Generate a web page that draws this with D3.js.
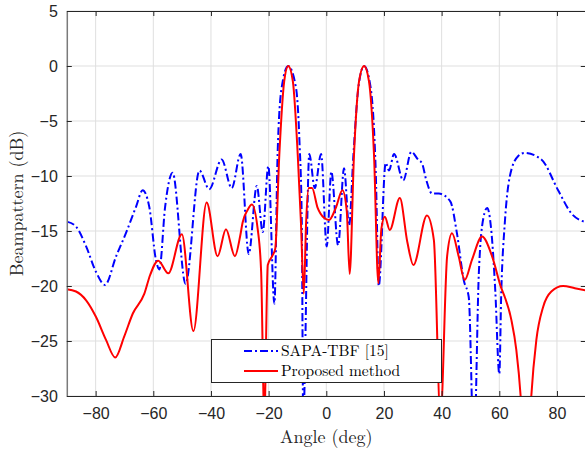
<!DOCTYPE html>
<html><head><meta charset="utf-8">
<script src="https://cdn.jsdelivr.net/npm/d3@7"></script>
<style>body{margin:0;background:#fff}svg{display:block}</style>
</head><body>
<svg id="c" width="585" height="454"></svg>
<script>
const xTicks = [-80, -60, -40, -20, 0, 20, 40, 60, 80];
const yTicks = [5, 0, -5, -10, -15, -20, -25, -30];
const seriesNames = ["SAPA-TBF [15]", "Proposed method"];

const blueAngles = [-90, -86.8, -83.3, -79.9, -76.75, -72.9, -69.5, -66.0, -63.7, -61.4, -59.1, -57.9, -55.9, -53.3, -48.8, -44.0, -40.6, -36.3, -32.8, -29.7, -26.9, -24.1, -22.05, -20.1, -18.0, -16.9, -15.5, -13.2, -10.5, -9.35, -8.5, -8.0, -5.9, -4.0, -1.8, 0.15, 1.75, 4.1, 6.15, 7.9, 9.4, 11.2, 13.1, 15.4, 17.15, 18.2, 20.6, 21.75, 23.5, 26.7, 29.5, 31.8, 33.2, 34.6, 36.7, 39.0, 43.0, 45.3, 47.7, 49.4, 51.2, 52.9, 54.0, 55.8, 57.5, 58.6, 60.0, 60.7, 61.9, 63.6, 66.5, 68.8, 74.6, 80.4, 85.0, 90];
const blueDb = [-14.15, -14.6, -16.4, -18.7, -19.9, -17.3, -15.2, -12.8, -11.3, -12.8, -17.6, -18.5, -12.8, -9.7, -19.8, -9.5, -11.2, -8.5, -11.1, -8.0, -17.1, -10.9, -15.1, -9.1, -21.6, -8.1, -2.0, 0, -2.0, -6.6, -14.2, -32, -8.0, -11.1, -8.0, -16.4, -9.6, -16.3, -9.3, -14.5, -8.1, -1.8, 0, -2.0, -9.6, -20.0, -8.8, -9.5, -8.0, -10.4, -7.8, -8.5, -8.85, -10.3, -11.6, -11.6, -12.3, -15.2, -19.5, -21.0, -35, -18.85, -14.6, -12.9, -15.8, -20.4, -28.0, -20.4, -14.3, -10.1, -8.2, -7.9, -8.5, -11.3, -13.4, -14.2];

const redAngles = [-90, -86.8, -83.3, -79.9, -76.4, -73.2, -70.1, -67.1, -63.1, -61.1, -58.3, -54.8, -50.1, -46.1, -41.5, -37.7, -34.8, -31.7, -29.9, -29.0, -27.3, -25.8, -23.8, -22.6, -21.5, -20.3, -18.6, -17.7, -16.3, -14.6, -13.2, -11.6, -9.9, -8.8, -7.8, -7.0, -6.1, -4.95, -3.0, -0.8, 0.95, 3.3, 5.6, 7.1, 8.1, 9.6, 11.35, 13.1, 14.8, 16.55, 18.05, 19.1, 20.3, 22.0, 25.5, 28.1, 30.2, 34.9, 37.3, 39.6, 41.9, 43.6, 45.9, 48.0, 50.55, 54.0, 57.5, 60.7, 61.9, 64.2, 65.9, 67.4, 69.3, 71.1, 72.85, 75.2, 78.05, 82.1, 86.2, 90];
const redDb = [-20.3, -20.5, -21.3, -22.8, -24.9, -26.5, -24.6, -22.5, -20.7, -19.0, -17.7, -18.85, -15.3, -24.1, -12.4, -17.3, -14.85, -17.3, -15.5, -14.2, -13.1, -12.6, -14.8, -18.7, -32, -18.1, -17.2, -16.6, -8.1, -1.4, 0, -1.4, -8.1, -14.2, -20.7, -14.2, -11.1, -11.1, -12.9, -13.8, -14.0, -12.9, -11.3, -13.2, -18.9, -8.1, -1.4, 0, -1.4, -8.1, -19.75, -14.8, -13.7, -14.9, -12.0, -16.0, -18.1, -13.6, -15.8, -32, -17.3, -15.2, -17.3, -19.45, -17.6, -15.5, -17.3, -20.2, -21.0, -23.1, -25.8, -30, -40, -30, -24.9, -21.9, -20.5, -20.0, -20.2, -20.4];

const svg = d3.select("#c");
const L = 66.8, R = 585.8, T = 11, B = 396;
const x = d3.scaleLinear().domain([-90, 90]).range([L, R]);
const y = d3.scaleLinear().domain([-30, 5]).range([B, T]);
const axisCol = "#262626";

// grid
const g = svg.append("g");
g.selectAll(".gx").data(xTicks).join("line")
  .attr("x1", d => x(d)).attr("x2", d => x(d)).attr("y1", T).attr("y2", B)
  .attr("stroke", "#dfdfdf").attr("stroke-width", 1);
g.selectAll(".gy").data(yTicks).join("line")
  .attr("x1", L).attr("x2", R).attr("y1", d => y(d)).attr("y2", d => y(d))
  .attr("stroke", "#dfdfdf").attr("stroke-width", 1);

// clip
svg.append("clipPath").attr("id", "clip").append("rect")
  .attr("x", L).attr("y", T).attr("width", R - L).attr("height", B - T);

const lineB = d3.line().x((d, i) => x(blueAngles[i])).y(d => y(d)).curve(d3.curveMonotoneX);
const lineR = d3.line().x((d, i) => x(redAngles[i])).y(d => y(d)).curve(d3.curveMonotoneX);

const plot = svg.append("g").attr("clip-path", "url(#clip)");
plot.append("path").attr("d", lineB(blueDb)).attr("fill", "none")
  .attr("stroke", "#0000ff").attr("stroke-width", 2).attr("stroke-dasharray", "8,3,2,3");
plot.append("path").attr("d", lineR(redDb)).attr("fill", "none")
  .attr("stroke", "#ff0000").attr("stroke-width", 2);

// axes (box)
const xAxisB = d3.axisBottom(x).tickValues(xTicks).tickSizeInner(-5).tickSizeOuter(0).tickPadding(12).tickFormat(d3.format("d"));
const xAxisT = d3.axisTop(x).tickValues(xTicks).tickSizeInner(-5).tickSizeOuter(0).tickFormat("");
const yAxisL = d3.axisLeft(y).tickValues(yTicks).tickSizeInner(-5).tickSizeOuter(0).tickPadding(9).tickFormat(d3.format("d"));
const yAxisR = d3.axisRight(y).tickValues(yTicks).tickSizeInner(-5).tickSizeOuter(0).tickFormat("");

function style(sel) {
  sel.select(".domain").attr("stroke", axisCol);
  sel.selectAll(".tick line").attr("stroke", axisCol);
  sel.selectAll(".tick text").attr("fill", axisCol)
    .style("font-family", "'Liberation Sans', Arial, sans-serif").style("font-size", "16px");
}
svg.append("g").attr("transform", `translate(0,${B})`).call(xAxisB).call(style);
svg.append("g").attr("transform", `translate(0,${T})`).call(xAxisT).call(style);
svg.append("g").attr("transform", `translate(${L},0)`).call(yAxisL).call(style)
  .select(".domain").attr("stroke", "#7a7a7a").attr("stroke-width", 1.5);
svg.append("g").attr("transform", `translate(${R},0)`).call(yAxisR).call(style);

// labels
const serif = "'Latin Modern Roman', 'Liberation Serif', 'DejaVu Serif', serif";
svg.append("text").attr("x", (L + R) / 2).attr("y", 443).attr("text-anchor", "middle")
  .style("font-family", serif).style("font-size", "18px").attr("fill", axisCol).text("Angle (deg)");
svg.append("text").attr("transform", `translate(23,${(T + B) / 2}) rotate(-90)`).attr("text-anchor", "middle")
  .style("font-family", serif).style("font-size", "18px").attr("fill", axisCol).text("Beampattern (dB)");

// legend
const lg = svg.append("g");
lg.append("rect").attr("x", 211.5).attr("y", 339.5).attr("width", 230).attr("height", 43)
  .attr("fill", "#fff").attr("stroke", axisCol).attr("stroke-width", 1);
const legendColors = ["#0000ff", "#ff0000"];
const legendDash = ["8,3,2,3", null];
seriesNames.forEach((name, i) => {
  const yy = 351 + i * 20;
  lg.append("line").attr("x1", 244).attr("x2", 278).attr("y1", yy).attr("y2", yy)
    .attr("stroke", legendColors[i]).attr("stroke-width", 2).attr("stroke-dasharray", legendDash[i]);
  lg.append("text").attr("x", 281).attr("y", yy + 5)
    .style("font-family", serif).style("font-size", "15.5px").attr("fill", "#000").text(name);
});
</script>
</body></html>
